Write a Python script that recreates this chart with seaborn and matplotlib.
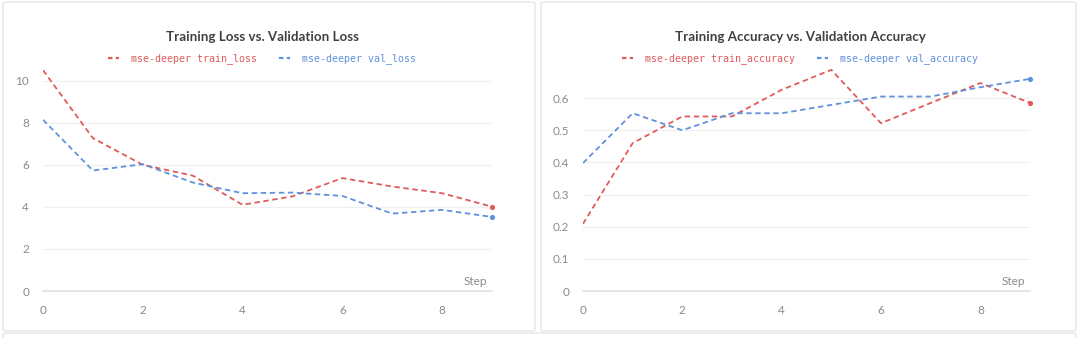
import numpy as np
import pandas as pd
import seaborn as sns
import matplotlib.pyplot as plt
from matplotlib.patches import FancyBboxPatch
from matplotlib.lines import Line2D

# ---- data ----
steps = [0, 1, 2, 3, 4, 5, 6, 7, 8, 9]
train_loss = [10.5, 7.27, 6.0, 5.49, 4.1, 4.5, 5.37, 4.97, 4.65, 4.01]
val_loss = [8.14, 5.73, 6.03, 5.16, 4.65, 4.68, 4.52, 3.68, 3.86, 3.52]
train_acc = [0.209, 0.46, 0.543, 0.543, 0.626, 0.688, 0.522, 0.585, 0.647, 0.585]
val_acc = [0.398, 0.553, 0.50, 0.553, 0.553, 0.579, 0.605, 0.605, 0.634, 0.66]

loss_names = ["mse-deeper train_loss", "mse-deeper val_loss"]
acc_names = ["mse-deeper train_accuracy", "mse-deeper val_accuracy"]
titles = ["Training Loss vs. Validation Loss",
          "Training Accuracy vs. Validation Accuracy"]
loss_ticks = [0, 2, 4, 6, 8, 10]
acc_ticks = [0, 0.1, 0.2, 0.3, 0.4, 0.5, 0.6]
x_ticks = [0, 2, 4, 6, 8]

RED = "#e05a5a"
BLUE = "#5f92dc"
GRID = "#f0f0f0"
AXIS = "#e2e2e2"
TICK = "#8a8a8a"

sns.set_theme(style="white")
plt.rcParams["font.family"] = ["Lato", "DejaVu Sans"]

W, H = 1080, 338
fig = plt.figure(figsize=(W / 100, H / 100), dpi=100)


def fx(px):
    return px / W


def fy(py):
    return 1 - py / H


# panel frames
for x0, x1 in [(3, 535), (541, 1076)]:
    fig.patches.append(FancyBboxPatch((fx(x0), fy(331)), fx(x1 - x0), (331 - 2) / H,
                                      boxstyle="round,pad=0,rounding_size=0.004",
                                      transform=fig.transFigure, fill=False,
                                      edgecolor="#e6e6e6", linewidth=1.0))
fig.patches.append(FancyBboxPatch((fx(3), fy(345)), fx(1073), 12 / H,
                                  boxstyle="round,pad=0,rounding_size=0.004",
                                  transform=fig.transFigure, fill=False,
                                  edgecolor="#e6e6e6", linewidth=1.0))


def panel(left_px, right_px, ytop, values, names, yticks, title, cx):
    y0_px = 291
    top_px = 66
    ax = fig.add_axes([fx(left_px), fy(y0_px), fx(right_px - left_px),
                       (y0_px - top_px) / H])
    df = pd.DataFrame({
        "Step": steps * 2,
        "value": values[0] + values[1],
        "series": [names[0]] * len(steps) + [names[1]] * len(steps),
    })
    sns.lineplot(data=df, x="Step", y="value", hue="series",
                 palette=[RED, BLUE], ax=ax, linewidth=1.3, legend=False)
    for ln in ax.get_lines():
        ln.set_dashes([3, 2])
    # end-point markers
    for vals, col in zip(values, [RED, BLUE]):
        sns.scatterplot(x=[steps[-1]], y=[vals[-1]], color=col, s=14,
                        ax=ax, legend=False, linewidth=0, zorder=5, clip_on=False)
    ax.set_xlim(0, 9)
    ax.set_ylim(0, ytop)
    ax.set_yticks(yticks)
    ax.set_yticklabels([f"{v:g}" for v in yticks])
    ax.set_xticks(x_ticks)
    ax.set_xlabel("")
    ax.set_ylabel("")
    for s in ["top", "right", "left"]:
        ax.spines[s].set_visible(False)
    ax.spines["bottom"].set_color(AXIS)
    ax.spines["bottom"].set_linewidth(1.2)
    ax.grid(axis="y", color=GRID, linewidth=0.9)
    ax.set_axisbelow(True)
    ax.tick_params(axis="y", length=0, pad=10, labelsize=8.5, labelcolor=TICK)
    ax.tick_params(axis="x", length=4, width=0.8, color=AXIS, direction="inout",
                   pad=8, labelsize=8.5, labelcolor=TICK)
    ax.annotate("Step", xy=(1, 0), xycoords="axes fraction",
                xytext=(-5, 4), textcoords="offset pixels",
                ha="right", va="bottom", fontsize=8.5, color=TICK)
    fig.text(fx(cx), fy(37), title, ha="center", va="center",
             fontsize=9.6, fontweight="bold", color="#404040")
    handles = [Line2D([], [], color=RED, dashes=[2, 1.5], linewidth=1.6),
               Line2D([], [], color=BLUE, dashes=[2, 1.5], linewidth=1.6)]
    leg = fig.legend(handles, names, loc="center", bbox_to_anchor=(fx(cx), fy(59)),
                     ncol=2, frameon=False, handlelength=1.1, handletextpad=1.2,
                     columnspacing=2.2,
                     prop={"family": "DejaVu Sans Mono", "size": 7.2})
    for txt, col in zip(leg.get_texts(), [RED, BLUE]):
        txt.set_color(col)
    return ax


panel(43, 492, 10.7, [train_loss, val_loss], loss_names, loss_ticks, titles[0], 262)
panel(583, 1030, 0.7, [train_acc, val_acc], acc_names, acc_ticks, titles[1], 800)

fig.savefig("out.png", dpi=100, facecolor="white")
